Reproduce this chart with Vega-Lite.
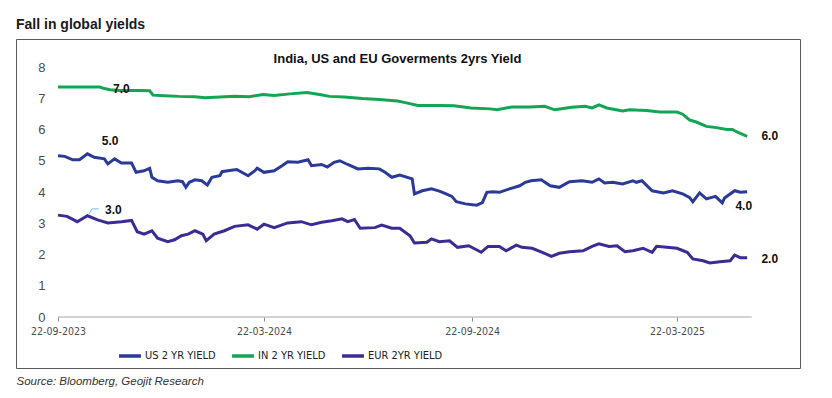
{
  "$schema": "https://vega.github.io/schema/vega-lite/v6.json",
  "width": 784,
  "height": 329,
  "autosize": {"type": "none"},
  "padding": {"left": 16, "top": 39, "right": 32, "bottom": 30},
  "background": "white",
  "title": {"text": "Fall in global yields", "anchor": "start", "frame": "group", "fontSize": 14, "fontWeight": "bold", "font": "Liberation Sans", "color": "#1a1a1a", "baseline": "alphabetic", "offset": -4},
  "config": {"view": {"stroke": "#5a5a5a", "strokeWidth": 1}, "font": "Liberation Sans"},
  "datasets": {
    "series": [
      {"d": "2023-09-22", "s": "US", "v": 5.16}, {"d": "2023-09-28", "s": "US", "v": 5.14}, {"d": "2023-10-05", "s": "US", "v": 5.03}, {"d": "2023-10-11", "s": "US", "v": 5.03}, {"d": "2023-10-18", "s": "US", "v": 5.22}, {"d": "2023-10-24", "s": "US", "v": 5.11}, {"d": "2023-11-02", "s": "US", "v": 5.06}, {"d": "2023-11-05", "s": "US", "v": 4.90}, {"d": "2023-11-11", "s": "US", "v": 5.06}, {"d": "2023-11-17", "s": "US", "v": 4.93}, {"d": "2023-11-26", "s": "US", "v": 4.93}, {"d": "2023-11-30", "s": "US", "v": 4.63}, {"d": "2023-12-07", "s": "US", "v": 4.68}, {"d": "2023-12-12", "s": "US", "v": 4.76}, {"d": "2023-12-14", "s": "US", "v": 4.47}, {"d": "2023-12-19", "s": "US", "v": 4.36}, {"d": "2023-12-28", "s": "US", "v": 4.31}, {"d": "2024-01-06", "s": "US", "v": 4.36}, {"d": "2024-01-10", "s": "US", "v": 4.33}, {"d": "2024-01-13", "s": "US", "v": 4.15}, {"d": "2024-01-16", "s": "US", "v": 4.31}, {"d": "2024-01-21", "s": "US", "v": 4.39}, {"d": "2024-01-27", "s": "US", "v": 4.36}, {"d": "2024-02-01", "s": "US", "v": 4.22}, {"d": "2024-02-05", "s": "US", "v": 4.47}, {"d": "2024-02-12", "s": "US", "v": 4.52}, {"d": "2024-02-14", "s": "US", "v": 4.65}, {"d": "2024-02-19", "s": "US", "v": 4.68}, {"d": "2024-02-27", "s": "US", "v": 4.72}, {"d": "2024-03-08", "s": "US", "v": 4.52}, {"d": "2024-03-14", "s": "US", "v": 4.68}, {"d": "2024-03-16", "s": "US", "v": 4.76}, {"d": "2024-03-22", "s": "US", "v": 4.63}, {"d": "2024-03-31", "s": "US", "v": 4.68}, {"d": "2024-04-07", "s": "US", "v": 4.84}, {"d": "2024-04-12", "s": "US", "v": 4.97}, {"d": "2024-04-21", "s": "US", "v": 4.95}, {"d": "2024-04-30", "s": "US", "v": 5.03}, {"d": "2024-05-03", "s": "US", "v": 4.84}, {"d": "2024-05-12", "s": "US", "v": 4.88}, {"d": "2024-05-17", "s": "US", "v": 4.80}, {"d": "2024-05-23", "s": "US", "v": 4.95}, {"d": "2024-05-28", "s": "US", "v": 5.00}, {"d": "2024-06-04", "s": "US", "v": 4.88}, {"d": "2024-06-13", "s": "US", "v": 4.74}, {"d": "2024-06-22", "s": "US", "v": 4.76}, {"d": "2024-07-02", "s": "US", "v": 4.74}, {"d": "2024-07-07", "s": "US", "v": 4.63}, {"d": "2024-07-13", "s": "US", "v": 4.47}, {"d": "2024-07-20", "s": "US", "v": 4.54}, {"d": "2024-07-31", "s": "US", "v": 4.42}, {"d": "2024-08-02", "s": "US", "v": 3.94}, {"d": "2024-08-09", "s": "US", "v": 4.04}, {"d": "2024-08-17", "s": "US", "v": 4.10}, {"d": "2024-08-24", "s": "US", "v": 4.03}, {"d": "2024-08-30", "s": "US", "v": 3.94}, {"d": "2024-09-04", "s": "US", "v": 3.86}, {"d": "2024-09-08", "s": "US", "v": 3.69}, {"d": "2024-09-16", "s": "US", "v": 3.62}, {"d": "2024-09-26", "s": "US", "v": 3.58}, {"d": "2024-10-01", "s": "US", "v": 3.66}, {"d": "2024-10-05", "s": "US", "v": 3.99}, {"d": "2024-10-10", "s": "US", "v": 4.01}, {"d": "2024-10-16", "s": "US", "v": 3.99}, {"d": "2024-10-25", "s": "US", "v": 4.10}, {"d": "2024-11-03", "s": "US", "v": 4.20}, {"d": "2024-11-08", "s": "US", "v": 4.31}, {"d": "2024-11-13", "s": "US", "v": 4.36}, {"d": "2024-11-22", "s": "US", "v": 4.39}, {"d": "2024-11-30", "s": "US", "v": 4.20}, {"d": "2024-12-08", "s": "US", "v": 4.15}, {"d": "2024-12-17", "s": "US", "v": 4.33}, {"d": "2024-12-28", "s": "US", "v": 4.36}, {"d": "2025-01-06", "s": "US", "v": 4.31}, {"d": "2025-01-12", "s": "US", "v": 4.42}, {"d": "2025-01-17", "s": "US", "v": 4.29}, {"d": "2025-01-24", "s": "US", "v": 4.31}, {"d": "2025-02-02", "s": "US", "v": 4.26}, {"d": "2025-02-11", "s": "US", "v": 4.36}, {"d": "2025-02-14", "s": "US", "v": 4.31}, {"d": "2025-02-19", "s": "US", "v": 4.36}, {"d": "2025-02-28", "s": "US", "v": 4.04}, {"d": "2025-03-10", "s": "US", "v": 3.97}, {"d": "2025-03-18", "s": "US", "v": 4.04}, {"d": "2025-03-27", "s": "US", "v": 3.94}, {"d": "2025-04-02", "s": "US", "v": 3.83}, {"d": "2025-04-05", "s": "US", "v": 3.69}, {"d": "2025-04-11", "s": "US", "v": 3.97}, {"d": "2025-04-17", "s": "US", "v": 3.78}, {"d": "2025-04-25", "s": "US", "v": 3.86}, {"d": "2025-05-01", "s": "US", "v": 3.65}, {"d": "2025-05-03", "s": "US", "v": 3.81}, {"d": "2025-05-12", "s": "US", "v": 4.04}, {"d": "2025-05-17", "s": "US", "v": 3.99}, {"d": "2025-05-23", "s": "US", "v": 4.01},
      {"d": "2023-09-22", "s": "IN", "v": 7.36}, {"d": "2023-10-11", "s": "IN", "v": 7.36}, {"d": "2023-10-29", "s": "IN", "v": 7.36}, {"d": "2023-11-02", "s": "IN", "v": 7.31}, {"d": "2023-11-07", "s": "IN", "v": 7.27}, {"d": "2023-11-15", "s": "IN", "v": 7.25}, {"d": "2023-12-03", "s": "IN", "v": 7.25}, {"d": "2023-12-12", "s": "IN", "v": 7.24}, {"d": "2023-12-15", "s": "IN", "v": 7.10}, {"d": "2023-12-25", "s": "IN", "v": 7.08}, {"d": "2024-01-07", "s": "IN", "v": 7.06}, {"d": "2024-01-21", "s": "IN", "v": 7.05}, {"d": "2024-01-30", "s": "IN", "v": 7.02}, {"d": "2024-02-12", "s": "IN", "v": 7.04}, {"d": "2024-02-25", "s": "IN", "v": 7.06}, {"d": "2024-03-09", "s": "IN", "v": 7.05}, {"d": "2024-03-21", "s": "IN", "v": 7.12}, {"d": "2024-03-31", "s": "IN", "v": 7.09}, {"d": "2024-04-14", "s": "IN", "v": 7.14}, {"d": "2024-04-29", "s": "IN", "v": 7.18}, {"d": "2024-05-10", "s": "IN", "v": 7.12}, {"d": "2024-05-19", "s": "IN", "v": 7.06}, {"d": "2024-06-01", "s": "IN", "v": 7.04}, {"d": "2024-06-17", "s": "IN", "v": 6.99}, {"d": "2024-07-02", "s": "IN", "v": 6.96}, {"d": "2024-07-18", "s": "IN", "v": 6.91}, {"d": "2024-07-25", "s": "IN", "v": 6.86}, {"d": "2024-08-05", "s": "IN", "v": 6.77}, {"d": "2024-08-24", "s": "IN", "v": 6.77}, {"d": "2024-09-06", "s": "IN", "v": 6.76}, {"d": "2024-09-21", "s": "IN", "v": 6.69}, {"d": "2024-10-08", "s": "IN", "v": 6.66}, {"d": "2024-10-14", "s": "IN", "v": 6.63}, {"d": "2024-10-27", "s": "IN", "v": 6.72}, {"d": "2024-11-12", "s": "IN", "v": 6.72}, {"d": "2024-11-25", "s": "IN", "v": 6.74}, {"d": "2024-12-04", "s": "IN", "v": 6.63}, {"d": "2024-12-19", "s": "IN", "v": 6.71}, {"d": "2024-12-31", "s": "IN", "v": 6.74}, {"d": "2025-01-06", "s": "IN", "v": 6.69}, {"d": "2025-01-12", "s": "IN", "v": 6.79}, {"d": "2025-01-19", "s": "IN", "v": 6.69}, {"d": "2025-02-02", "s": "IN", "v": 6.59}, {"d": "2025-02-08", "s": "IN", "v": 6.63}, {"d": "2025-02-23", "s": "IN", "v": 6.61}, {"d": "2025-03-07", "s": "IN", "v": 6.56}, {"d": "2025-03-22", "s": "IN", "v": 6.56}, {"d": "2025-03-27", "s": "IN", "v": 6.49}, {"d": "2025-04-02", "s": "IN", "v": 6.31}, {"d": "2025-04-08", "s": "IN", "v": 6.24}, {"d": "2025-04-17", "s": "IN", "v": 6.10}, {"d": "2025-04-26", "s": "IN", "v": 6.06}, {"d": "2025-05-05", "s": "IN", "v": 6.00}, {"d": "2025-05-10", "s": "IN", "v": 6.00}, {"d": "2025-05-14", "s": "IN", "v": 5.92}, {"d": "2025-05-23", "s": "IN", "v": 5.78},
      {"d": "2023-09-22", "s": "EU", "v": 3.26}, {"d": "2023-09-30", "s": "EU", "v": 3.22}, {"d": "2023-10-09", "s": "EU", "v": 3.05}, {"d": "2023-10-18", "s": "EU", "v": 3.24}, {"d": "2023-10-27", "s": "EU", "v": 3.11}, {"d": "2023-11-05", "s": "EU", "v": 3.01}, {"d": "2023-11-17", "s": "EU", "v": 3.05}, {"d": "2023-11-26", "s": "EU", "v": 3.09}, {"d": "2023-12-01", "s": "EU", "v": 2.73}, {"d": "2023-12-07", "s": "EU", "v": 2.65}, {"d": "2023-12-14", "s": "EU", "v": 2.76}, {"d": "2023-12-19", "s": "EU", "v": 2.52}, {"d": "2023-12-28", "s": "EU", "v": 2.41}, {"d": "2024-01-03", "s": "EU", "v": 2.47}, {"d": "2024-01-09", "s": "EU", "v": 2.60}, {"d": "2024-01-15", "s": "EU", "v": 2.65}, {"d": "2024-01-21", "s": "EU", "v": 2.76}, {"d": "2024-01-28", "s": "EU", "v": 2.65}, {"d": "2024-01-31", "s": "EU", "v": 2.44}, {"d": "2024-02-07", "s": "EU", "v": 2.65}, {"d": "2024-02-16", "s": "EU", "v": 2.76}, {"d": "2024-02-25", "s": "EU", "v": 2.90}, {"d": "2024-03-08", "s": "EU", "v": 2.95}, {"d": "2024-03-16", "s": "EU", "v": 2.81}, {"d": "2024-03-22", "s": "EU", "v": 2.97}, {"d": "2024-03-31", "s": "EU", "v": 2.86}, {"d": "2024-04-12", "s": "EU", "v": 3.01}, {"d": "2024-04-24", "s": "EU", "v": 3.05}, {"d": "2024-05-03", "s": "EU", "v": 2.95}, {"d": "2024-05-12", "s": "EU", "v": 3.03}, {"d": "2024-05-21", "s": "EU", "v": 3.08}, {"d": "2024-05-30", "s": "EU", "v": 3.14}, {"d": "2024-06-04", "s": "EU", "v": 3.05}, {"d": "2024-06-10", "s": "EU", "v": 3.12}, {"d": "2024-06-15", "s": "EU", "v": 2.84}, {"d": "2024-06-28", "s": "EU", "v": 2.86}, {"d": "2024-07-04", "s": "EU", "v": 2.94}, {"d": "2024-07-13", "s": "EU", "v": 2.84}, {"d": "2024-07-20", "s": "EU", "v": 2.84}, {"d": "2024-07-29", "s": "EU", "v": 2.60}, {"d": "2024-08-02", "s": "EU", "v": 2.37}, {"d": "2024-08-13", "s": "EU", "v": 2.39}, {"d": "2024-08-17", "s": "EU", "v": 2.50}, {"d": "2024-08-24", "s": "EU", "v": 2.41}, {"d": "2024-09-02", "s": "EU", "v": 2.44}, {"d": "2024-09-09", "s": "EU", "v": 2.23}, {"d": "2024-09-19", "s": "EU", "v": 2.28}, {"d": "2024-09-30", "s": "EU", "v": 2.07}, {"d": "2024-10-06", "s": "EU", "v": 2.26}, {"d": "2024-10-16", "s": "EU", "v": 2.26}, {"d": "2024-10-22", "s": "EU", "v": 2.12}, {"d": "2024-10-31", "s": "EU", "v": 2.30}, {"d": "2024-11-05", "s": "EU", "v": 2.23}, {"d": "2024-11-14", "s": "EU", "v": 2.20}, {"d": "2024-11-23", "s": "EU", "v": 2.07}, {"d": "2024-12-01", "s": "EU", "v": 1.94}, {"d": "2024-12-08", "s": "EU", "v": 2.04}, {"d": "2024-12-17", "s": "EU", "v": 2.09}, {"d": "2024-12-29", "s": "EU", "v": 2.12}, {"d": "2025-01-06", "s": "EU", "v": 2.26}, {"d": "2025-01-12", "s": "EU", "v": 2.34}, {"d": "2025-01-21", "s": "EU", "v": 2.26}, {"d": "2025-01-28", "s": "EU", "v": 2.28}, {"d": "2025-02-04", "s": "EU", "v": 2.09}, {"d": "2025-02-11", "s": "EU", "v": 2.12}, {"d": "2025-02-20", "s": "EU", "v": 2.20}, {"d": "2025-02-28", "s": "EU", "v": 2.07}, {"d": "2025-03-04", "s": "EU", "v": 2.26}, {"d": "2025-03-13", "s": "EU", "v": 2.23}, {"d": "2025-03-22", "s": "EU", "v": 2.20}, {"d": "2025-03-31", "s": "EU", "v": 2.07}, {"d": "2025-04-05", "s": "EU", "v": 1.86}, {"d": "2025-04-14", "s": "EU", "v": 1.80}, {"d": "2025-04-20", "s": "EU", "v": 1.73}, {"d": "2025-04-29", "s": "EU", "v": 1.77}, {"d": "2025-05-08", "s": "EU", "v": 1.80}, {"d": "2025-05-12", "s": "EU", "v": 1.98}, {"d": "2025-05-17", "s": "EU", "v": 1.90}, {"d": "2025-05-23", "s": "EU", "v": 1.90}
    ],
    "labels": [
      {"d": "2023-11-17", "v": 7.31, "t": "7.0"},
      {"d": "2023-11-07", "v": 5.63, "t": "5.0"},
      {"d": "2023-11-10", "v": 3.42, "t": "3.0"},
      {"d": "2025-06-12", "v": 5.78, "t": "6.0"},
      {"d": "2025-05-20", "v": 3.54, "t": "4.0"},
      {"d": "2025-06-12", "v": 1.86, "t": "2.0"}
    ],
    "lead": [
      {"d": "2023-10-19", "v": 3.27},
      {"d": "2023-10-22", "v": 3.46},
      {"d": "2023-10-28", "v": 3.46}
    ],
    "base": [{"d": "2023-09-22", "d2": "2025-05-27", "v": 0}]
  },
  "encoding": {
    "x": {
      "field": "d", "type": "temporal",
      "scale": {"domain": [{"year": 2023, "month": 8, "date": 15, "hours": 21}, {"year": 2025, "month": 7, "date": 8, "hours": 17}]},
      "axis": {
        "values": [{"year": 2023, "month": 9, "date": 22}, {"year": 2024, "month": 3, "date": 22}, {"year": 2024, "month": 9, "date": 22}, {"year": 2025, "month": 3, "date": 22}],
        "format": "%d-%m-%Y", "domain": false, "ticks": true, "tickSize": 4, "tickColor": "#8c8c8c", "grid": false,
        "offset": -51, "labelPadding": 5, "labelFontSize": 10.5, "labelFont": "'Liberation Sans Narrow', 'DejaVu Sans Condensed', sans-serif", "labelColor": "#4d4d4d",
        "title": "Source: Bloomberg, Geojit Research", "titleX": 0, "titleY": 67, "titleAlign": "left", "titleAnchor": "start", "titleBaseline": "alphabetic",
        "titleFontSize": 11.5, "titleFontStyle": "italic", "titleFontWeight": "normal", "titleFont": "Liberation Sans", "titleColor": "#333333"
      }
    },
    "y": {
      "field": "v", "type": "quantitative",
      "scale": {"domain": [-1.632, 8.896], "nice": false, "zero": false},
      "axis": {
        "values": [0, 1, 2, 3, 4, 5, 6, 7, 8], "domain": false, "ticks": false, "grid": false,
        "offset": -33, "labelPadding": 4, "labelFontSize": 13, "labelFont": "Liberation Sans", "labelColor": "#4d4d4d",
        "title": "India, US and EU Goverments 2yrs Yield", "titleAngle": 0, "titleX": 348, "titleY": 23, "titleAlign": "center", "titleBaseline": "alphabetic",
        "titleFontSize": 13, "titleFontWeight": "bold", "titleFont": "Liberation Sans", "titleColor": "#111111"
      }
    }
  },
  "layer": [
    {
      "data": {"name": "base"},
      "mark": {"type": "rule", "color": "#a6a6a6", "strokeWidth": 1},
      "encoding": {"x2": {"field": "d2"}}
    },
    {
      "data": {"name": "series"},
      "mark": {"type": "line", "strokeWidth": 3},
      "encoding": {
        "color": {
          "field": "s", "type": "nominal",
          "scale": {"domain": ["US", "IN", "EU"], "range": ["#2b3a98", "#13a553", "#3d2b94"]},
          "legend": {
            "orient": "none", "legendX": 101, "legendY": 304, "direction": "horizontal", "title": null,
            "symbolType": "stroke", "symbolStrokeWidth": 3.5, "symbolSize": 480,
            "labelFontSize": 11, "labelFont": "'Liberation Sans Narrow', 'DejaVu Sans Condensed', sans-serif", "labelColor": "#222222",
            "columnPadding": 9, "labelOffset": 2,
            "labelExpr": "datum.value == 'US' ? 'US 2 YR YIELD' : datum.value == 'IN' ? 'IN 2 YR YIELD' : 'EUR 2YR YIELD'"
          }
        }
      }
    },
    {
      "data": {"name": "lead"},
      "mark": {"type": "line", "color": "#6cc3e0", "strokeWidth": 1},
      "encoding": {}
    },
    {
      "data": {"name": "labels"},
      "mark": {"type": "text", "fontWeight": "bold", "fontSize": 12, "font": "Liberation Sans", "color": "#111111", "align": "center", "baseline": "middle"},
      "encoding": {"text": {"field": "t"}}
    }
  ]
}
